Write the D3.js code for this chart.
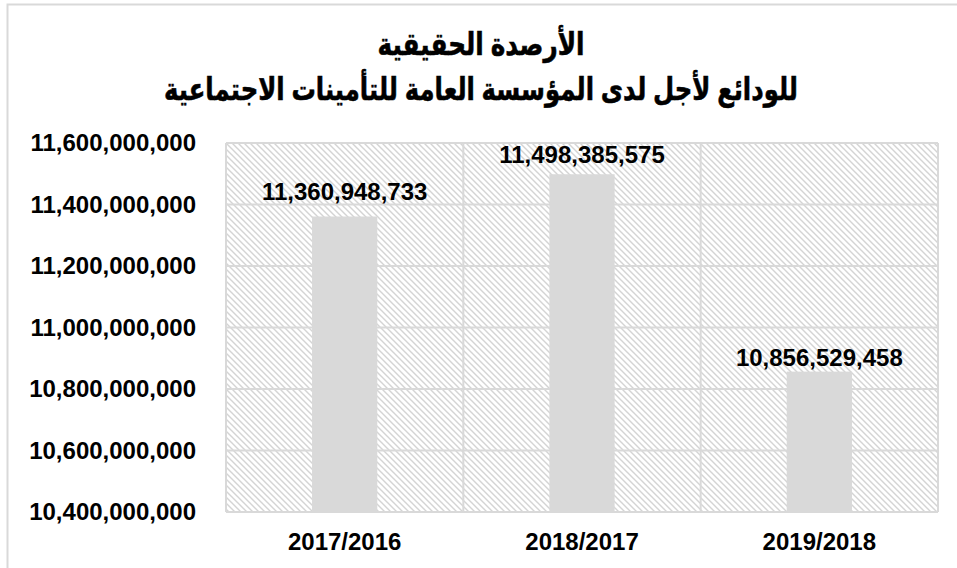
<!DOCTYPE html>
<html>
<head>
<meta charset="utf-8">
<script src="https://cdn.jsdelivr.net/npm/d3@7"></script>
<style>
  body { margin: 0; background: #fff; }
  text { font-family: "Liberation Sans", Arial, "DejaVu Sans", sans-serif; font-weight: bold; fill: #000; }
</style>
</head>
<body>
<div id="chart"></div>
<script>
const titleLines = ["الأرصدة الحقيقية", "للودائع لأجل لدى المؤسسة العامة للتأمينات الاجتماعية"];
const periods = ["2017/2016", "2018/2017", "2019/2018"];
const balances = [11360948733, 11498385575, 10856529458];
const yTicks = [10400000000, 10600000000, 10800000000, 11000000000, 11200000000, 11400000000, 11600000000];

const W = 957, H = 568;
const margin = { top: 143, right: 19, bottom: 56, left: 226 };
const width = W - margin.left - margin.right;
const height = H - margin.top - margin.bottom;

const svg = d3.select("#chart")
  .append("svg")
    .attr("width", W)
    .attr("height", H);

// hatched plot background
const defs = svg.append("defs");
const pat = defs.append("pattern")
  .attr("id", "hatch")
  .attr("patternUnits", "userSpaceOnUse")
  .attr("width", 6)
  .attr("height", 6);
pat.append("rect").attr("width", 6).attr("height", 6).attr("fill", "#fff");
pat.append("path")
  .attr("d", "M-1,-1 L7,7 M-4,2 L2,8 M4,-2 L8,2")
  .attr("stroke", "#d4d4d4")
  .attr("stroke-width", 1.4);

// outer chart border (cropped on right/bottom)
svg.append("rect")
  .attr("x", 7.5).attr("y", 4.5)
  .attr("width", W + 10).attr("height", H + 10)
  .attr("fill", "none")
  .attr("stroke", "#d9d9d9")
  .attr("stroke-width", 2);

const x = d3.scaleBand().domain(periods).range([0, width]).padding(0);
const y = d3.scaleLinear().domain([d3.min(yTicks), d3.max(yTicks)]).range([height, 0]);

const g = svg.append("g")
  .attr("transform", `translate(${margin.left},${margin.top})`);

g.append("rect")
  .attr("width", width)
  .attr("height", height)
  .attr("fill", "url(#hatch)");

// horizontal gridlines
g.append("g")
  .selectAll("line")
  .data(yTicks)
  .join("line")
    .attr("x1", 0).attr("x2", width)
    .attr("y1", d => y(d)).attr("y2", d => y(d))
    .attr("stroke", "#d9d9d9")
    .attr("stroke-width", 2);

// vertical gridlines between categories
g.append("g")
  .selectAll("line")
  .data(periods.concat(["end"]))
  .join("line")
    .attr("x1", (d, i) => i * x.step()).attr("x2", (d, i) => i * x.step())
    .attr("y1", 0).attr("y2", height)
    .attr("stroke", "#d9d9d9")
    .attr("stroke-width", 2);

// bars
const barW = x.bandwidth() * 0.275;
g.append("g")
  .selectAll("rect")
  .data(balances)
  .join("rect")
    .attr("x", (d, i) => x(periods[i]) + (x.bandwidth() - barW) / 2)
    .attr("y", d => y(d))
    .attr("width", barW)
    .attr("height", d => height - y(d))
    .attr("fill", "#d9d9d9");

// value labels
const fmt = d3.format(",");
const labelGap = [17, 11, 6];
g.append("g")
  .selectAll("text")
  .data(balances)
  .join("text")
    .attr("x", (d, i) => x(periods[i]) + x.bandwidth() / 2)
    .attr("y", (d, i) => Math.max(y(d) - labelGap[i], 20))
    .attr("text-anchor", "middle")
    .style("font-size", "24px")
    .text(d => fmt(d));

// y axis labels
const yAxis = g.append("g")
  .call(d3.axisLeft(y).tickValues(yTicks).tickFormat(fmt).tickSize(0).tickPadding(30));
yAxis.select(".domain").remove();
yAxis.selectAll("text")
  .style("font-size", "24px")
  .style("font-family", "'Liberation Sans', Arial, sans-serif")
  .style("font-weight", "bold")
  .attr("fill", "#000");

// x axis labels
const xAxis = g.append("g")
  .attr("transform", `translate(0,${height})`)
  .call(d3.axisBottom(x).tickSize(0).tickPadding(21));
xAxis.select(".domain").remove();
xAxis.selectAll("text")
  .style("font-size", "24px")
  .style("font-family", "'Liberation Sans', Arial, sans-serif")
  .style("font-weight", "bold")
  .attr("fill", "#000");

// title
const titleWidths = [207, 634];
svg.append("g")
  .selectAll("text")
  .data(titleLines)
  .join("text")
    .attr("x", 481)
    .attr("y", (d, i) => 55 + i * 45)
    .attr("text-anchor", "middle")
    .attr("direction", "rtl")
    .attr("textLength", (d, i) => titleWidths[i])
    .attr("lengthAdjust", "spacingAndGlyphs")
    .attr("stroke", "#000")
    .attr("stroke-width", 0.6)
    .style("font-size", "31px")
    .text(d => d);
</script>
</body>
</html>
